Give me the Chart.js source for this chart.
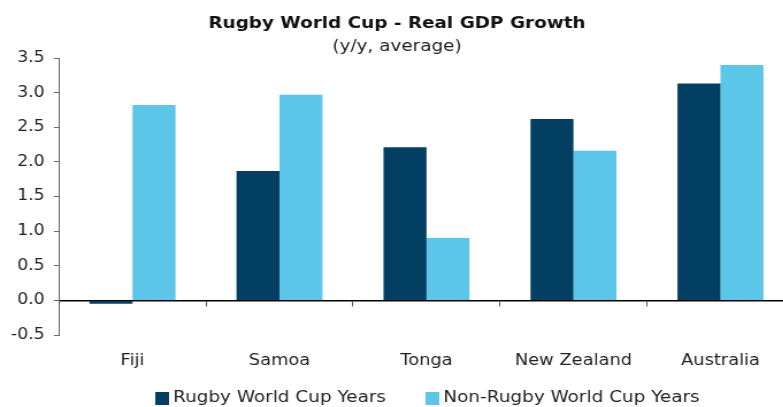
<!DOCTYPE html>
<html>
<head>
<meta charset="utf-8">
<title>Rugby World Cup - Real GDP Growth</title>
<script src="https://cdn.jsdelivr.net/npm/chart.js@4.4.1/dist/chart.umd.min.js"></script>
<style>
    html, body { margin: 0; padding: 0; background: #fff; overflow: hidden; }
    /* the reference is stretched sideways, so the chart is drawn narrow and widened */
    #wrap { width: 694px; height: 407px; transform: scaleX(1.15); transform-origin: 0 0; }
</style>
</head>
<body>
<div id="wrap"><canvas id="gdpChart" width="694" height="407"></canvas></div>
<script>
// Data
const categories = ['Fiji', 'Samoa', 'Tonga', 'New Zealand', 'Australia'];
const seriesNames = ['Rugby World Cup Years', 'Non-Rugby World Cup Years'];
const rwcYears = [-0.05, 1.87, 2.21, 2.62, 3.13];
const nonRwcYears = [2.82, 2.97, 0.90, 2.16, 3.40];
const yTicks = [-0.5, 0.0, 0.5, 1.0, 1.5, 2.0, 2.5, 3.0, 3.5];

const FONT = 'DejaVu Sans';
const COLORS = ['#023F63', '#5BC6E8'];
const LEGEND_FONT = 16;
const LEGEND_GAP = 38;
const LEGEND_Y = 398;

// Small square swatches, drawn as point styles so they sit close to the text
function legendSwatch(color) {
    const c = document.createElement('canvas');
    c.width = 12;
    c.height = 13;
    const g = c.getContext('2d');
    g.fillStyle = color;
    g.fillRect(0, 0, 12, 13);
    return c;
}
const swatches = COLORS.map(legendSwatch);

// Put the legend (roughly) centred under the plot area, at a fixed height
const placeLegend = {
    id: 'placeLegend',
    afterLayout(chart) {
        const ca = chart.chartArea;
        const lg = chart.legend;
        if (!lg) return;
        const dx = (ca.left + ca.right) / 2 - (lg.left + lg.right) / 2 + 2.6;
        lg.left += dx;
        lg.right += dx;
        const dy = LEGEND_Y - (lg.top + LEGEND_GAP + LEGEND_FONT / 2);
        lg.top += dy;
        // legend is clipped to its box, so let the box reach the canvas bottom
        lg.bottom = chart.height + 10;
    }
};

const ctx = document.getElementById('gdpChart').getContext('2d');
const chart = new Chart(ctx, {
    type: 'bar',
    data: {
        labels: categories,
        datasets: [
            {
                label: seriesNames[0],
                data: rwcYears,
                backgroundColor: COLORS[0],
                xAxisID: 'x',
                yAxisID: 'y'
            },
            {
                label: seriesNames[1],
                data: nonRwcYears,
                backgroundColor: COLORS[1],
                xAxisID: 'x',
                yAxisID: 'y'
            }
        ]
    },
    options: {
        responsive: false,
        animation: false,
        devicePixelRatio: 1,
        datasets: {
            bar: { categoryPercentage: 0.585, barPercentage: 1.0 }
        },
        layout: { padding: { left: 0, right: 3.6, top: 0, bottom: 0 } },
        plugins: {
            title: {
                display: true,
                text: 'Rugby World Cup - Real GDP Growth',
                color: '#111',
                font: { family: FONT, size: 16, weight: 'bold' },
                padding: { top: 14.4, bottom: 0 }
            },
            subtitle: {
                display: true,
                text: '(y/y, average)',
                color: '#222',
                font: { family: FONT, size: 16 },
                padding: { top: 3.8, bottom: 1.4 }
            },
            legend: {
                position: 'bottom',
                maxHeight: 32,
                labels: {
                    usePointStyle: true,
                    pointStyleWidth: 4,
                    boxHeight: 13,
                    padding: LEGEND_GAP,
                    color: '#222',
                    font: { family: FONT, size: LEGEND_FONT },
                    generateLabels: c => Chart.defaults.plugins.legend.labels.generateLabels(c)
                        .map((item, i) => ({ ...item, pointStyle: swatches[i] }))
                }
            },
            tooltip: { enabled: false }
        },
        scales: {
            x: {
                grid: { display: false },
                border: { display: false },
                ticks: {
                    color: '#222',
                    padding: 9,
                    maxRotation: 0,
                    autoSkip: false,
                    font: { family: FONT, size: 15.5 }
                },
                afterFit: s => { s.height = 40; }
            },
            // zero line with the category tick marks hanging under it
            x2: {
                type: 'category',
                position: { y: 0 },
                offset: true,
                grid: {
                    offset: true,
                    drawOnChartArea: false,
                    drawTicks: true,
                    tickLength: 5,
                    color: '#555',
                    lineWidth: 1
                },
                border: { color: '#000', width: 1.5 },
                ticks: { display: false }
            },
            y: {
                min: -0.5,
                max: 3.5,
                afterBuildTicks: s => { s.ticks = yTicks.map(v => ({ value: v })); },
                ticks: {
                    color: '#222',
                    padding: 8,
                    font: { family: FONT, size: 15 },
                    callback: v => Number(v).toFixed(1)
                },
                grid: {
                    drawOnChartArea: false,
                    tickLength: 4.5,
                    color: '#666'
                },
                border: { color: '#666', width: 1 },
                afterFit: s => { s.width = 51.3; }
            }
        }
    },
    plugins: [placeLegend]
});
</script>
</body>
</html>
